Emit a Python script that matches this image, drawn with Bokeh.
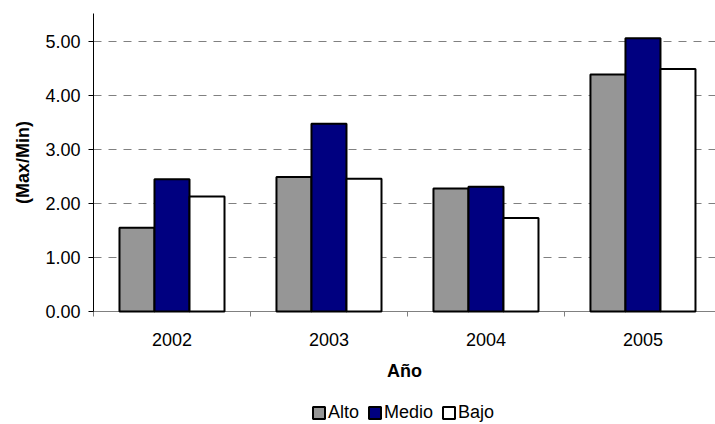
import numpy as np
from bokeh.plotting import figure
from bokeh.layouts import column
from bokeh.models import Range1d, FixedTicker, Legend, LegendItem, NumeralTickFormatter
from bokeh.embed import file_html
from bokeh.resources import INLINE

years = ["2002", "2003", "2004", "2005"]
alto = [1.55, 2.49, 2.28, 4.39]
medio = [2.45, 3.48, 2.31, 5.06]
bajo = [2.13, 2.46, 1.73, 4.49]
series_names = ["Alto", "Medio", "Bajo"]
series_colors = ["#969696", "#000080", "#FFFFFF"]
y_ticks = [0, 1, 2, 3, 4, 5]

FONT = "Liberation Sans"
FS = "18px"

idx = np.arange(len(years))
p = figure(width=715, height=398, output_backend="svg", toolbar_location=None,
           x_range=Range1d(-0.5, 3.462), y_range=Range1d(0, 5.52),
           min_border_left=93, min_border_right=0, min_border_top=13,
           min_border_bottom=87)
p.outline_line_color = None
p.background_fill_color = "white"
p.border_fill_color = "white"

bw = 0.223
series_values = [alto, medio, bajo]
for k, (vals, col) in enumerate(zip(series_values, series_colors)):
    r = p.vbar(x=idx + (k - 1) * bw, top=vals, width=bw, bottom=0,
               fill_color=col, line_color="black", line_width=2)
    r.level = "overlay"

# x axis
xa = p.xaxis[0]
xa.ticker = FixedTicker(ticks=list(idx), minor_ticks=list(idx - 0.5) + [idx[-1] + 0.5])
xa.major_label_overrides = {int(i): y for i, y in zip(idx, years)}
xa.major_tick_out = 0
xa.major_tick_in = 0
xa.minor_tick_out = 5
xa.minor_tick_in = 0
xa.minor_tick_line_color = "#808080"
xa.axis_line_color = "#808080"
xa.major_label_text_font = FONT
xa.major_label_text_font_size = FS
xa.major_label_text_color = "black"
xa.major_label_standoff = 16
xa.axis_label = "Año"
xa.axis_label_text_font = FONT
xa.axis_label_text_font_size = FS
xa.axis_label_text_font_style = "bold"
xa.axis_label_text_color = "black"
xa.axis_label_standoff = 12

# y axis
ya = p.yaxis[0]
ya.ticker = FixedTicker(ticks=y_ticks, minor_ticks=[])
ya.formatter = NumeralTickFormatter(format="0.00")
ya.major_tick_out = 5
ya.major_tick_in = 0
ya.major_tick_line_color = "black"
ya.axis_line_color = "black"
ya.major_label_text_font = FONT
ya.major_label_text_font_size = FS
ya.major_label_text_color = "black"
ya.major_label_standoff = 8
ya.axis_label = "(Max/Min)"
ya.axis_label_text_font = FONT
ya.axis_label_text_font_size = FS
ya.axis_label_text_font_style = "bold"
ya.axis_label_text_color = "black"
ya.axis_label_standoff = 9

p.xgrid.visible = False
p.ygrid.grid_line_color = "#808080"
p.ygrid.grid_line_dash = "8 7"
p.ygrid.grid_line_width = 1

# legend strip below the chart (proxy renderers are hidden; legend still drawn)
pl = figure(width=715, height=26, output_backend="svg", toolbar_location=None,
            x_range=Range1d(100, 101), y_range=Range1d(100, 101),
            x_axis_type=None, y_axis_type=None,
            min_border_left=93, min_border_right=0, min_border_top=0, min_border_bottom=0)
pl.outline_line_color = None
pl.xgrid.visible = False
pl.ygrid.visible = False
leg_renderers = []
for k, (vals, col) in enumerate(zip(series_values, series_colors)):
    lr = pl.vbar(x=idx + (k - 1) * bw, top=vals, width=bw, fill_color=col,
                 line_color="black", line_width=2)
    lr.visible = False
    leg_renderers.append(lr)
legend = Legend(items=[LegendItem(label=n, renderers=[r]) for n, r in zip(series_names, leg_renderers)],
                orientation="horizontal", location=(218, 1),
                glyph_width=15, glyph_height=15, label_standoff=2, spacing=8,
                padding=0, margin=0, border_line_color=None, background_fill_alpha=0,
                label_text_font=FONT, label_text_font_size=FS, label_text_color="black",
                label_height=15)
pl.add_layout(legend, "center")

layout = column(p, pl, spacing=0)
open("out.html", "w").write(file_html(layout, INLINE))
